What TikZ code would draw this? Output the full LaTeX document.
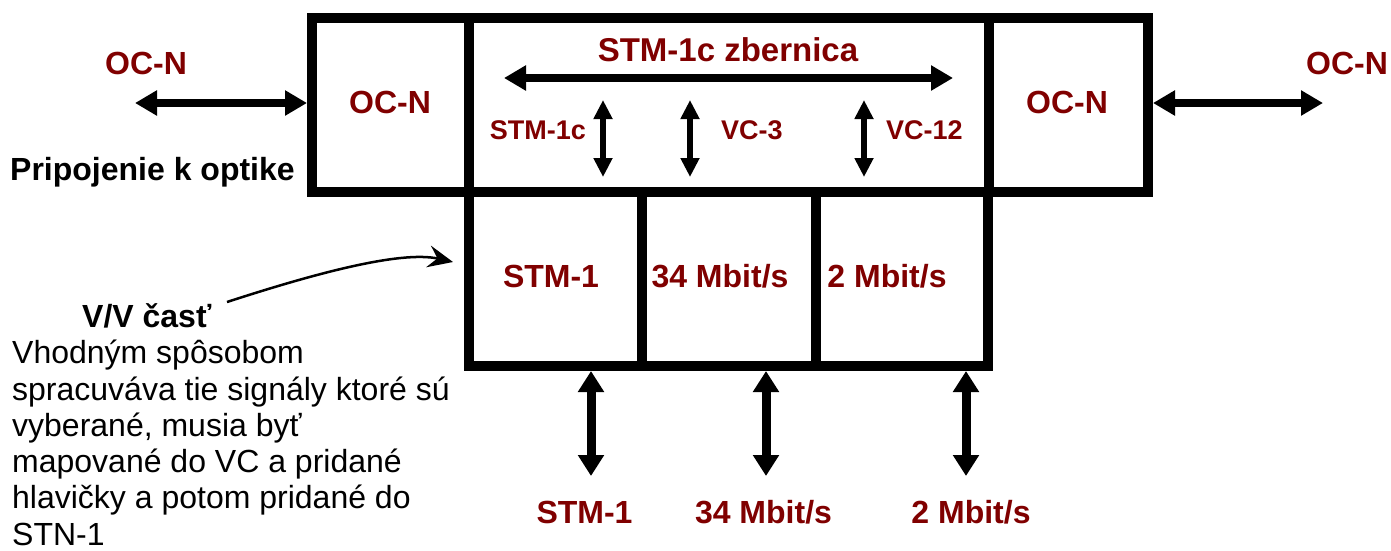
\documentclass[tikz,border=0pt]{standalone}
\usepackage{fontspec}
\setmainfont{Liberation Sans}
\usetikzlibrary{arrows.meta}
\definecolor{dred}{RGB}{128,0,0}
\begin{document}
\begin{tikzpicture}[x=1pt,y=-1pt,
  cell/.style={draw, line width=10pt, inner sep=0pt, minimum height=174pt},
  lbl/.style={text=dred, font=\bfseries\fontsize{32}{38}\selectfont, anchor=base, inner sep=0pt},
  smalllbl/.style={lbl, font=\bfseries\fontsize{27}{32}\selectfont},
  titlelbl/.style={lbl, font=\bfseries\fontsize{33}{40}\selectfont},
  blk/.style={anchor=base west, inner sep=0pt, font=\fontsize{32}{38}\selectfont},
  blkb/.style={blk, font=\bfseries\fontsize{32}{38}\selectfont},
  bigarrow/.style={line width=8pt, arrows={Triangle[length=22pt,width=24pt]-Triangle[length=22pt,width=24pt]}},
  vertarrow/.style={line width=9pt, arrows={Triangle[length=21pt,width=25pt]-Triangle[length=21pt,width=25pt]}},
  smallarrow/.style={line width=6pt, arrows={Triangle[length=19pt,width=18pt]-Triangle[length=19pt,width=18pt]}},
  pointer/.style={line width=2.5pt, arrows={-Stealth[length=25pt,width=22pt,inset=9pt]}}
]
\useasboundingbox (0,0) rectangle (1391,550);

% cells
\node[cell, minimum width=157pt] (ocl) at (390.5,105) {};
\node[cell, minimum width=520pt] (bus) at (729,105) {};
\node[cell, minimum width=159pt] (ocr) at (1068.5,105) {};
\node[cell, minimum width=173pt] (b1) at (555.5,279) {};
\node[cell, minimum width=174pt] (b2) at (729,279) {};
\node[cell, minimum width=172pt] (b3) at (902,279) {};

% texts in cells
\node[lbl] (tocl) at (390,113) {OC-N};
\node[lbl] (tocr) at (1067,113) {OC-N};
\node[titlelbl] (tbus) at (728,61) {STM-1c zbernica};
\node[smalllbl, anchor=base east] (tstm1c) at (586,139) {STM-1c};
\node[smalllbl, anchor=base west] (tvc3) at (721,139) {VC-3};
\node[smalllbl, anchor=base west] (tvc12) at (886,139) {VC-12};
\node[lbl] (tb1) at (551,287) {STM-1};
\node[lbl] (tb2) at (720,287) {34 Mbit/s};
\node[lbl] (tb3) at (887,287) {2 Mbit/s};

% outside labels
\node[lbl] (ol) at (146,74) {OC-N};
\node[lbl] (orr) at (1347,74) {OC-N};
\node[lbl] (o1) at (584.5,523) {STM-1};
\node[lbl] (o2) at (763.5,523) {34 Mbit/s};
\node[lbl] (o3) at (971,523) {2 Mbit/s};

% black texts
\node[blkb] (prip) at (10,180) {Pripojenie k optike};
\node[blkb] (vv) at (82,327) {V/V časť};
\node[blk] (d1) at (12,363) {Vhodným spôsobom};
\node[blk] (d2) at (12,400) {spracuváva tie signály ktoré sú};
\node[blk] (d3) at (12,436) {vyberané, musia byť};
\node[blk] (d4) at (12,472) {mapované do VC a pridané};
\node[blk] (d5) at (12,508) {hlavičky a potom pridané do};
\node[blk] (d6) at (12,545) {STN-1};

% coordinates
\coordinate (lo) at (135,103);
\coordinate (ro) at (1323,103);
\coordinate (busl) at (504,78);
\coordinate (busr) at (953,78);
\coordinate (s1t) at (603,100);
\coordinate (s1b) at (603,177);
\coordinate (s2t) at (690,100);
\coordinate (s2b) at (690,177);
\coordinate (s3t) at (864,100);
\coordinate (s3b) at (864,177);
\coordinate (e1) at (591,476);
\coordinate (e2) at (766,476);
\coordinate (e3) at (966,476);
\coordinate (ps) at (227,302);
\coordinate (pt) at (453,262);

% connectors
\draw[bigarrow] (lo) -- (lo -| ocl.west);
\draw[bigarrow] (ocr.east |- ro) -- (ro);
\draw[bigarrow] (busl) -- (busr);
\draw[smallarrow] (s1t) -- (s1b);
\draw[smallarrow] (s2t) -- (s2b);
\draw[smallarrow] (s3t) -- (s3b);
\draw[vertarrow] (e1 |- b1.south) -- (e1);
\draw[vertarrow] (e2 |- b2.south) -- (e2);
\draw[vertarrow] (e3 |- b3.south) -- (e3);
\draw[pointer] (ps) .. controls (310,275) and (400,250) .. (pt);
\end{tikzpicture}
\end{document}
